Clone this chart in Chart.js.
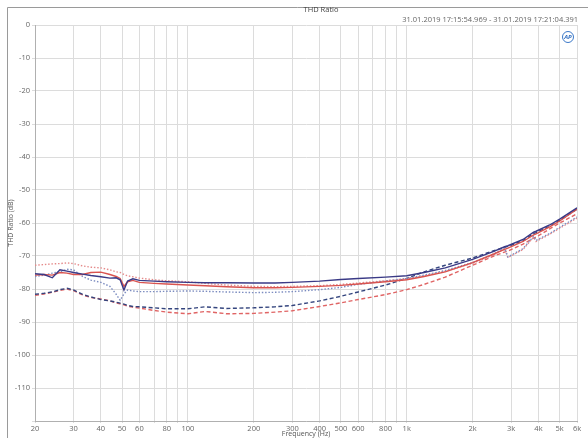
<!DOCTYPE html>
<html>
<head>
<meta charset="utf-8">
<script src="https://cdn.jsdelivr.net/npm/chart.js@4"></script>
<style>
    body { margin: 0; background: #ffffff; }
    #caixa { position: relative; width: 588px; height: 438px; }
</style>
</head>
<body>
<div id="caixa"><canvas id="grafico"></canvas></div>
<script>
// frequencias medidas (Hz)
const freqs = [20, 22, 24, 26, 28, 30, 33, 36, 40, 44, 47, 49, 51, 53, 56, 60, 70, 80, 100, 120, 150, 200, 250, 300, 400, 500, 600, 800, 1000, 1200, 1500, 2000, 2500, 2800, 2900, 3400, 3800, 3900, 4500, 5000, 6000];

// THD Ratio (dB) por curva
const azulSolida = [-75.4, -75.6, -76.6, -74.2, -74.6, -75.0, -75.5, -75.9, -76.3, -76.7, -76.6, -77.2, -80.3, -77.6, -76.9, -77.4, -77.6, -77.8, -78.0, -78.1, -78.1, -78.2, -78.2, -78.0, -77.6, -77.1, -76.8, -76.4, -76.0, -75.0, -73.6, -71.0, -68.6, -67.2, -66.9, -65.0, -62.8, -62.5, -60.6, -58.8, -55.4];
const vermelhaSolida = [-75.8, -75.6, -75.8, -75.0, -75.2, -75.6, -75.6, -75.0, -74.9, -75.6, -76.2, -76.8, -79.2, -77.8, -77.4, -78.0, -78.3, -78.5, -78.8, -79.0, -79.3, -79.6, -79.6, -79.5, -79.2, -78.9, -78.5, -77.8, -77.2, -76.2, -74.8, -72.0, -69.4, -68.0, -67.6, -65.6, -63.6, -63.3, -61.2, -59.4, -55.8];
const azulPontilhada = [-76.2, -75.8, -75.2, -74.8, -74.0, -74.2, -76.2, -77.3, -78.0, -79.2, -81.6, -83.4, -81.5, -80.3, -80.6, -80.8, -80.8, -80.7, -80.6, -80.7, -80.9, -81.1, -81.0, -80.8, -80.2, -79.5, -78.6, -77.6, -76.8, -75.8, -74.4, -72.0, -69.4, -67.6, -70.3, -67.8, -64.0, -65.3, -63.2, -61.3, -58.2];
const vermelhaPontilhada = [-72.8, -72.6, -72.4, -72.3, -72.1, -72.3, -73.0, -73.4, -73.6, -74.2, -74.8, -75.0, -75.6, -76.0, -76.3, -76.7, -77.2, -77.5, -77.8, -78.3, -78.8, -79.2, -79.3, -79.2, -79.0, -78.6, -78.2, -77.5, -76.9, -76.0, -74.6, -72.2, -69.6, -67.8, -70.5, -68.0, -64.3, -65.6, -63.4, -61.6, -58.5];
const azulTracejada = [-81.6, -81.3, -80.9, -80.2, -79.8, -80.3, -81.6, -82.4, -83.2, -83.6, -84.0, -84.3, -84.6, -85.0, -85.3, -85.4, -85.7, -86.0, -86.0, -85.4, -85.9, -85.7, -85.4, -85.0, -83.6, -82.2, -80.9, -78.8, -76.8, -74.8, -72.8, -70.6, -68.4, -67.4, -67.1, -65.4, -63.2, -62.9, -61.0, -59.2, -55.8];
const vermelhaTracejada = [-81.9, -81.5, -81.0, -80.4, -80.0, -80.5, -81.8, -82.6, -83.0, -83.6, -84.2, -84.5, -84.8, -85.2, -85.5, -85.8, -86.5, -87.0, -87.5, -86.8, -87.5, -87.4, -87.0, -86.6, -85.3, -84.2, -83.2, -81.7, -80.2, -78.6, -76.4, -72.8, -70.0, -68.8, -68.5, -66.4, -64.6, -64.3, -61.8, -60.0, -57.2];

// eixos
const gradeFreqs = [20, 30, 40, 50, 60, 70, 80, 90, 100, 200, 300, 400, 500, 600, 700, 800, 900, 1000, 2000, 3000, 4000, 5000, 6000];
const rotulosFreqs = ['20', '30', '40', '50', '60', '', '80', '', '100', '200', '300', '400', '500', '600', '', '800', '', '1k', '2k', '3k', '4k', '5k', '6k'];
const ticksY = [0, -10, -20, -30, -40, -50, -60, -70, -80, -90, -100, -110, -120];

const fonte = "'Open Sans', sans-serif";

function pontos(valores) {
    return freqs.map((f, i) => ({ x: f, y: valores[i] }));
}

function serie(valores, cor, tracos) {
    return {
        data: pontos(valores),
        borderColor: cor,
        borderWidth: 1.4,
        borderDash: tracos,
        pointRadius: 0,
        tension: 0,
        fill: false
    };
}

// textos do topo, moldura e logo
const textos = {
    id: 'textos',
    afterDraw(chart) {
        const ctx = chart.ctx;
        ctx.save();
        ctx.strokeStyle = '#9a9a9a';
        ctx.lineWidth = 1;
        ctx.beginPath();
        ctx.moveTo(7.5, 438);
        ctx.lineTo(7.5, 7.5);
        ctx.lineTo(588, 7.5);
        ctx.stroke();

        ctx.fillStyle = '#444';
        ctx.font = '7.5px ' + fonte;
        ctx.textAlign = 'center';
        ctx.textBaseline = 'middle';
        ctx.fillText('THD Ratio', 321, 10);

        ctx.fillStyle = '#666';
        ctx.textAlign = 'right';
        ctx.fillText('31.01.2019 17:15:54.969 - 31.01.2019 17:21:04.391', 578, 20);

        ctx.strokeStyle = '#3a78c8';
        ctx.lineWidth = 1;
        ctx.beginPath();
        ctx.arc(568, 37, 5.5, 0, Math.PI * 2);
        ctx.stroke();
        ctx.fillStyle = '#2d6cc0';
        ctx.font = 'italic bold 6px ' + fonte;
        ctx.textAlign = 'center';
        ctx.fillText('AP', 568, 37);
        ctx.restore();
    }
};

const graficoThd = document.getElementById('grafico');
new Chart(graficoThd, {
    type: 'line',
    data: {
        datasets: [
            serie(azulSolida, '#3a3a86', []),
            serie(vermelhaSolida, '#d9534f', []),
            serie(azulPontilhada, '#7c8cc0', [1.5, 1.8]),
            serie(vermelhaPontilhada, '#e58b8b', [1.5, 1.8]),
            serie(azulTracejada, '#34457e', [4, 2.5]),
            serie(vermelhaTracejada, '#e06464', [4, 2.5])
        ]
    },
    options: {
        responsive: true,
        maintainAspectRatio: false,
        animation: false,
        layout: {
            padding: { top: 25, right: 11, left: 0, bottom: 0 }
        },
        scales: {
            x: {
                type: 'logarithmic',
                min: 20,
                max: 6000,
                afterBuildTicks: (scale) => {
                    scale.ticks = gradeFreqs.map(v => ({ value: v }));
                },
                afterFit: (scale) => {
                    scale.height = 17;
                },
                ticks: {
                    autoSkip: false,
                    maxRotation: 0,
                    padding: 1,
                    color: '#666',
                    font: { family: fonte, size: 7.5 },
                    callback: (valor, i) => rotulosFreqs[i]
                },
                grid: {
                    color: '#dcdcdc',
                    tickLength: 2
                },
                border: { color: '#b0b0b0' },
                title: {
                    display: true,
                    text: 'Frequency (Hz)',
                    color: '#555',
                    padding: 0,
                    font: { family: fonte, size: 7 }
                }
            },
            y: {
                min: -120,
                max: 0,
                afterBuildTicks: (scale) => {
                    scale.ticks = ticksY.map(v => ({ value: v }));
                },
                afterFit: (scale) => {
                    scale.width = 35;
                },
                ticks: {
                    padding: 2,
                    color: '#666',
                    font: { family: fonte, size: 7.5 },
                    callback: (valor) => valor == -120 ? '' : valor
                },
                grid: {
                    color: '#dcdcdc',
                    tickLength: 3
                },
                border: { color: '#b0b0b0' },
                title: {
                    display: true,
                    text: 'THD Ratio (dB)',
                    color: '#555',
                    padding: { top: 7, bottom: 0 },
                    font: { family: fonte, size: 7 }
                }
            }
        },
        plugins: {
            legend: { display: false },
            tooltip: { enabled: false }
        }
    },
    plugins: [textos]
});
</script>
</body>
</html>
